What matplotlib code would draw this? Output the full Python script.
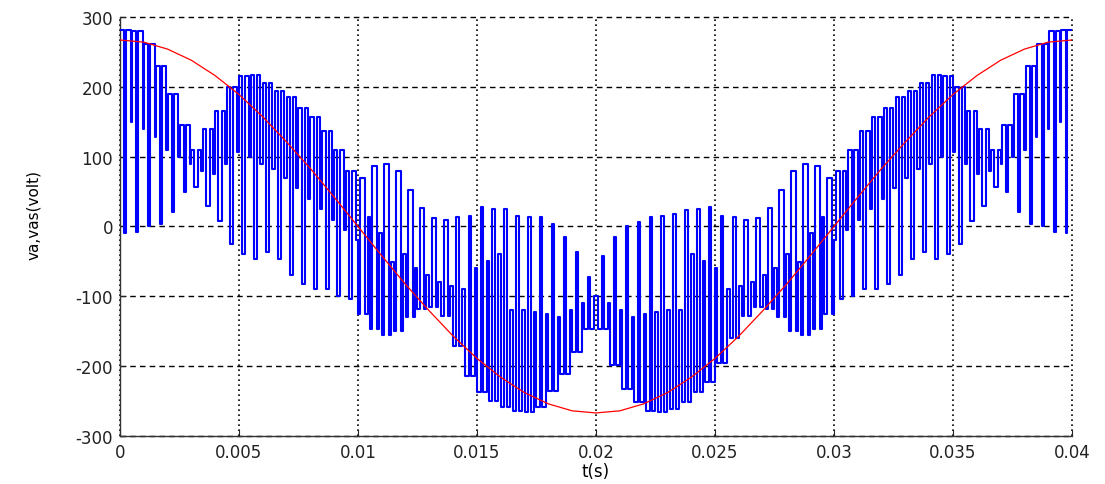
import numpy as np
import matplotlib
matplotlib.use("Agg")
import matplotlib.pyplot as plt

# Reference phase voltage va, sampled every 1 ms
t_ref_ms = list(range(41))
va_ref = [267, 264, 254, 238, 216, 189, 157, 121, 83, 42, 0, -42, -83, -121, -157,
          -189, -216, -238, -254, -264, -267, -264, -254, -238, -216, -189, -157,
          -121, -83, -42, 0, 42, 83, 121, 157, 189, 216, 238, 254, 264, 267]

# Switched output voltage vas: one entry per 0.5 ms switching period
T_SW = 0.0005
vas_high = [281, 280, 262, 230, 190, 145, 110, 140, 165, 200, 216, 217, 205, 194, 185,
            170, 157, 137, 110, 80, 70, 87, 90, 80, 52, 27, 12, 10, 13, 15, 28, 25, 25,
            15, 13, 13, 4, -15, -37, -72,
            -42, -15, 0, 6, 13, 15, 18, 24, 25, 28, 15, 13, 10, 12, 27, 52, 80, 90, 87,
            70, 80, 110, 137, 157, 170, 185, 194, 205, 217, 216, 200, 165, 140, 110,
            145, 190, 230, 262, 280, 281]
vas_mid = [150, 140, 128, 110, 100, 90, 80, 75, 90, 107, 100, 90, 82, 70, 55, 40, 25,
           10, -5, -20, 14, -10, -51, -40, -60, -70, -80, -85, -90, -60, -50, -40, -120,
           -120, -122, -125, -130, -120, -110, -100,
           -100, -110, -120, -130, -125, -122, -120, -120, -40, -50, -60, -90, -85, -80,
           -70, -60, -40, -51, -10, 14, -20, -5, 10, 25, 40, 55, 70, 82, 90, 100, 107,
           90, 75, 80, 90, 100, 110, 128, 140, 150]
vas_low = [-10, -8, 0, 3, 21, 49, 57, 29, 8, -25, -39, -47, -37, -47, -70, -82, -89,
           -89, -99, -104, -125, -147, -155, -150, -130, -118, -115, -128, -171, -214,
           -237, -250, -259, -264, -265, -259, -235, -211, -180, -147,
           -147, -199, -233, -252, -264, -265, -261, -252, -237, -223, -195, -160, -128,
           -115, -118, -130, -150, -155, -147, -125, -104, -99, -89, -89, -82, -70, -47,
           -37, -47, -39, -25, 8, 29, 57, 49, 21, 3, 0, -8, -10]
# share of each period spent on the low and on the middle level
frac_low = [0.15, 0.15, 0.15, 0.15, 0.15, 0.15, 0.3, 0.3, 0.3, 0.25, 0.25, 0.25, 0.25,
            0.25, 0.25, 0.25, 0.25, 0.25, 0.25, 0.25, 0.4, 0.4, 0.4, 0.4, 0.4, 0.45,
            0.45, 0.45, 0.45, 0.6, 0.6, 0.6, 0.6, 0.6, 0.6, 0.6, 0.6, 0.6, 0.6, 0.6,
            0.6, 0.6, 0.6, 0.6, 0.6, 0.6, 0.6, 0.6, 0.6, 0.6, 0.6, 0.45, 0.45, 0.45,
            0.45, 0.4, 0.4, 0.4, 0.4, 0.4, 0.25, 0.25, 0.25, 0.25, 0.25, 0.25, 0.25,
            0.25, 0.25, 0.25, 0.25, 0.3, 0.3, 0.3, 0.15, 0.15, 0.15, 0.15, 0.15, 0.15]
frac_mid = [0.1, 0.1, 0.1, 0.1, 0.1, 0.1, 0.2, 0.2, 0.2, 0.2, 0.2, 0.2, 0.2, 0.2, 0.2,
            0.2, 0.2, 0.2, 0.2, 0.2, 0.2, 0.2, 0.2, 0.2, 0.2, 0.25, 0.25, 0.25, 0.25,
            0.2, 0.2, 0.2, 0.2, 0.2, 0.2, 0.2, 0.2, 0.2, 0.2, 0.2,
            0.2, 0.2, 0.2, 0.2, 0.2, 0.2, 0.2, 0.2, 0.2, 0.2, 0.2, 0.25, 0.25, 0.25,
            0.25, 0.2, 0.2, 0.2, 0.2, 0.2, 0.2, 0.2, 0.2, 0.2, 0.2, 0.2, 0.2, 0.2, 0.2,
            0.2, 0.2, 0.2, 0.2, 0.2, 0.1, 0.1, 0.1, 0.1, 0.1, 0.1]

x_ticks = [0, 0.005, 0.01, 0.015, 0.02, 0.025, 0.03, 0.035, 0.04]
x_tick_labels = ["0", "0.005", "0.01", "0.015", "0.02", "0.025", "0.03", "0.035", "0.04"]
y_ticks = [-300, -200, -100, 0, 100, 200, 300]

# Build the stepped switching trace period by period
n_half = len(vas_high) // 2
t_pwm, v_pwm = [], []
for k in range(len(vas_high)):
    vh, vm, vl = vas_high[k], vas_mid[k], vas_low[k]
    fl, fm = frac_low[k], frac_mid[k]
    fh = 1.0 - fl - fm
    if fh >= fl:
        seq = [(vh, fh / 2), (vl, fl), (vh, fh / 2), (vm, fm)]
    else:
        seq = [(vl, fl / 2), (vh, fh), (vl, fl / 2), (vm, fm)]
    if k >= n_half:
        seq = seq[::-1]
    s = k * T_SW
    for v, f in seq:
        t_pwm += [s, s + f * T_SW]
        v_pwm += [v, v]
        s += f * T_SW

plt.rcParams["font.family"] = ["DejaVu Sans"]
plt.rcParams["axes.unicode_minus"] = False
fig = plt.figure(figsize=(11.05, 4.85), dpi=100)
ax = fig.add_axes([0.1086, 0.099, 0.8615, 0.8639])

ax.plot(t_pwm, v_pwm, color=(0, 0, 1), lw=1.5, zorder=3)
ax.plot(np.array(t_ref_ms) * 1e-3, va_ref, color=(1, 0, 0), lw=0.9, zorder=4)

ax.set_xlim(0, 0.04)
ax.set_ylim(-300, 300)
ax.set_xticks(x_ticks)
ax.set_xticklabels(x_tick_labels)
ax.set_yticks(y_ticks)

ax.set_axisbelow(True)
ax.xaxis.grid(True, color="black", linestyle=(0, (1, 2)), lw=1.2)
ax.yaxis.grid(True, color="black", linestyle=(0, (4, 3)), lw=1.0)
for gl in ax.get_xgridlines() + ax.get_ygridlines():
    gl.set_clip_on(False)

for side in ("top", "right"):
    ax.spines[side].set_visible(False)
for side in ("left", "bottom"):
    ax.spines[side].set_linewidth(1.0)
    ax.spines[side].set_color("#333333")

ax.tick_params(direction="in", length=4, width=0.8, labelsize=12, pad=5,
               colors="#222222")
ax.set_xlabel("t(s)", fontsize=12, labelpad=1)
ax.set_ylabel("va,vas(volt)", fontsize=11)
ax.yaxis.set_label_coords(-0.083, 0.53)

fig.savefig("out.png", dpi=100)
